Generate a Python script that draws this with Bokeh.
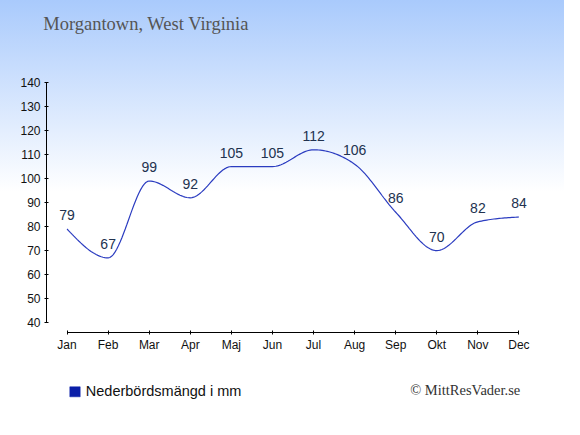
import numpy as np
from bokeh.plotting import figure
from bokeh.layouts import column
from bokeh.models import FixedTicker, Range1d
from bokeh.core.properties import value
from bokeh.embed import file_html
from bokeh.resources import INLINE

# ---- data ----
months = ["Jan", "Feb", "Mar", "Apr", "Maj", "Jun", "Jul", "Aug", "Sep", "Okt", "Nov", "Dec"]
precip_mm = [79, 67, 99, 92, 105, 105, 112, 106, 86, 70, 82, 84]
y_ticks = [40, 50, 60, 70, 80, 90, 100, 110, 120, 130, 140]
title_text = "Morgantown, West Virginia"
legend_text = "Nederbördsmängd i mm"
credit_text = "© MittResVader.se"

W = 564
H_TOP, H_MAIN, H_BOT = 70, 300, 49


def monotone_curve(xs, ys, n=24):
    """Monotone cubic (d3 curveMonotoneX style) drawn through the data points."""
    xs = np.asarray(xs, float)
    ys = np.asarray(ys, float)
    h = np.diff(xs)
    s = np.diff(ys) / h
    t = np.zeros_like(ys)
    for i in range(1, len(ys) - 1):
        s0, s1 = s[i - 1], s[i]
        p = (s0 * h[i] + s1 * h[i - 1]) / (h[i - 1] + h[i])
        t[i] = (np.sign(s0) + np.sign(s1)) * min(abs(s0), abs(s1), 0.5 * abs(p))
    t[0] = (3 * s[0] - t[1]) / 2
    t[-1] = (3 * s[-1] - t[-2]) / 2
    out_x, out_y = [], []
    for i in range(len(ys) - 1):
        u = np.linspace(0, 1, n, endpoint=(i == len(ys) - 2))
        h00 = 2 * u**3 - 3 * u**2 + 1
        h10 = u**3 - 2 * u**2 + u
        h01 = -2 * u**3 + 3 * u**2
        h11 = u**3 - u**2
        out_x.extend(xs[i] + u * h[i])
        out_y.extend(h00 * ys[i] + h10 * h[i] * t[i] + h01 * ys[i + 1] + h11 * h[i] * t[i + 1])
    return out_x, out_y


def bare(fig):
    fig.background_fill_alpha = 0
    fig.border_fill_alpha = 0
    fig.outline_line_color = None
    fig.grid.visible = False
    fig.axis.visible = False
    fig.frame_align = False


# ---- title strip ----
top = figure(width=W, height=H_TOP, x_range=Range1d(0, W), y_range=Range1d(H_TOP, 0),
             output_backend="svg", toolbar_location=None, min_border=0)
bare(top)
top.text(x=[42.7], y=[23.7], text=[title_text], text_baseline="alphabetic", text_align="left",
         text_font=value("Liberation Serif"), text_font_size="18.5px", text_color="#555555")

# ---- main chart ----
idx = list(range(len(months)))
cx, cy = monotone_curve(idx, precip_mm)

p = figure(
    width=W, height=H_MAIN,
    x_range=(-0.5, 11.5), y_range=(35.93, 140),
    output_backend="svg", toolbar_location=None,
    min_border_left=46, min_border_right=25,
    min_border_top=12, min_border_bottom=38,
)
p.background_fill_alpha = 0
p.border_fill_alpha = 0
p.outline_line_color = None
p.grid.visible = False
p.frame_align = False

for ax in (p.xaxis[0], p.yaxis[0]):
    ax.axis_line_color = "#000000"
    ax.major_tick_line_color = "#000000"
    ax.minor_tick_line_color = None
    ax.major_tick_in = 2
    ax.major_tick_out = 2
    ax.major_label_text_font = "Liberation Sans"
    ax.major_label_text_font_size = "12px"
    ax.major_label_text_color = "#111111"

p.xaxis.ticker = FixedTicker(ticks=idx)
p.xaxis.major_label_overrides = {i: m for i, m in enumerate(months)}
p.xaxis.bounds = (0, len(months) - 1)
p.xaxis.major_label_standoff = 3

p.yaxis.ticker = FixedTicker(ticks=y_ticks)
p.yaxis.bounds = (y_ticks[0], y_ticks[-1])
p.yaxis.major_label_standoff = 4

p.line(cx, cy, line_color="#2b3cc0", line_width=1.2)
p.text(
    x=idx, y=precip_mm, text=[str(v) for v in precip_mm],
    text_align="center", text_baseline="alphabetic", y_offset=-14,
    text_font=value("Liberation Sans"), text_font_size="14px", text_color="#22324f",
)

# ---- legend / credit strip ----
bot = figure(width=W, height=H_BOT, x_range=Range1d(0, W), y_range=Range1d(H_BOT, 0),
             output_backend="svg", toolbar_location=None, min_border=0)
bare(bot)
bot.quad(left=[69.3], right=[79.7], top=[16.3], bottom=[26.3],
         fill_color="#0b1fa8", line_color="#0b1fa8", line_width=0.5)
bot.text(x=[85.3], y=[20.3], text=[legend_text], text_baseline="alphabetic", text_align="left",
         text_font=value("Liberation Sans"), text_font_size="14.5px", text_color="#111111")
bot.text(x=[409.7], y=[19.3], text=[credit_text], text_baseline="alphabetic", text_align="left",
         text_font=value("Liberation Serif"), text_font_size="14.5px", text_color="#333333")

layout = column(top, p, bot, spacing=0)
layout.styles = {"background-image": "linear-gradient(to bottom, #a9cafc 0px, #ffffff 192px)"}

open("out.html", "w").write(file_html(layout, INLINE))
